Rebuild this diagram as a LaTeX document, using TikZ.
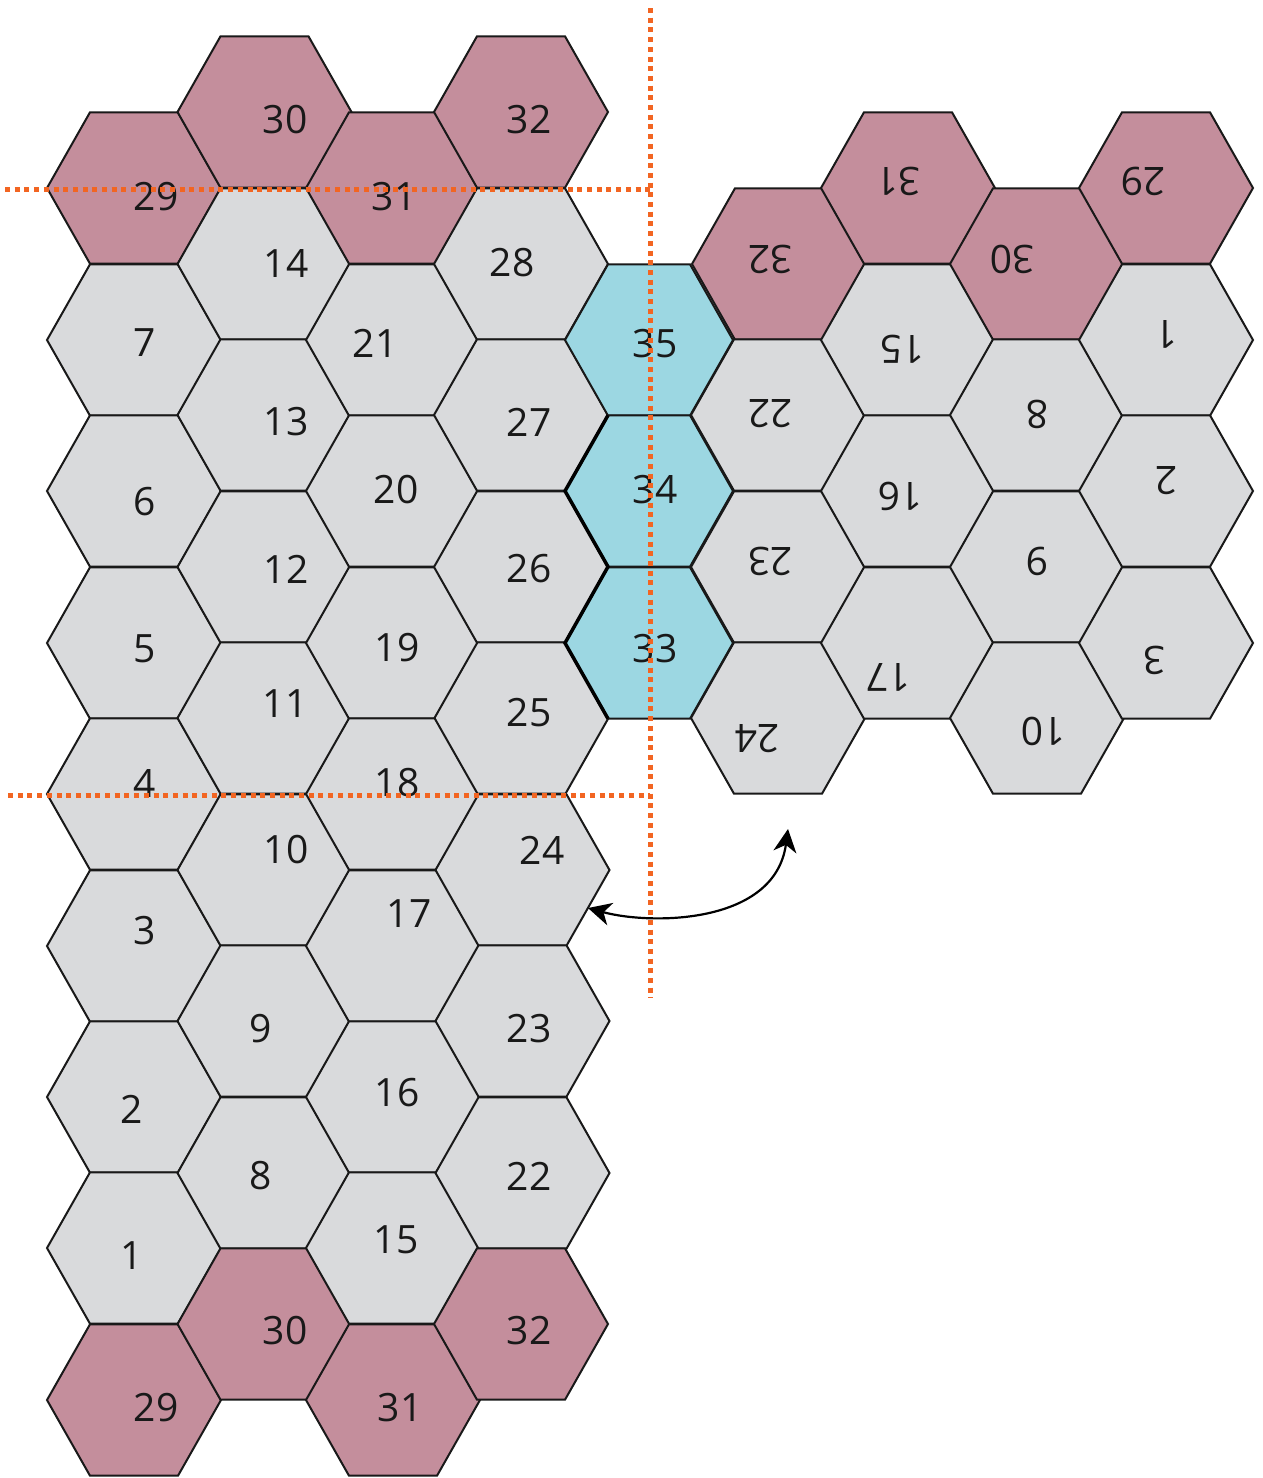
\documentclass[tikz,border=0pt]{standalone}
\usepackage{fontspec}
\setmainfont{Open Sans}
\usetikzlibrary{arrows.meta}
\definecolor{hexgrey}{HTML}{D9DADC}
\definecolor{hexpink}{HTML}{C48E9C}
\definecolor{hexblue}{HTML}{9CD7E2}
\definecolor{cutline}{HTML}{F26522}
\tikzset{
  hexedge/.style={draw=black!90,line width=2pt,line join=miter},
  numlabel/.style={inner sep=0pt,yshift=-1pt,font=\fontsize{39}{39}\selectfont,text=black!90},
  fliplabel/.style={numlabel,rotate=180},
  cutmark/.style={draw=cutline,line width=5pt,dash pattern=on 5pt off 4.7pt},
  swapline/.style={draw=black,line width=2.2pt,{Stealth[length=23pt,width=23pt,inset=7pt]}-{Stealth[length=23pt,width=23pt,inset=7pt]}}
}
% \hexcell{name}{cx}{cy}{half width}{fill}
\newcommand{\hexcell}[5]{%
  \coordinate (#1-w) at (#2-#4,#3);
  \coordinate (#1-nw) at (#2-#4+43,#3-75.7);
  \coordinate (#1-ne) at (#2+#4-43,#3-75.7);
  \coordinate (#1-e) at (#2+#4,#3);
  \coordinate (#1-se) at (#2+#4-43,#3+75.7);
  \coordinate (#1-sw) at (#2-#4+43,#3+75.7);
  \path[hexedge,fill=#5] (#1-w)--(#1-nw)--(#1-ne)--(#1-e)--(#1-se)--(#1-sw)--cycle;
}
\begin{document}
\begin{tikzpicture}[x=1pt,y=-1pt]
\useasboundingbox (0,0) rectangle (1262,1478);
% left sheet
\hexcell{a1}{134}{188}{87}{hexpink}
\hexcell{a2}{134}{340}{87}{hexgrey}
\hexcell{a3}{134}{491}{87}{hexgrey}
\hexcell{a4}{134}{643}{87}{hexgrey}
\hexcell{a5}{134}{794}{87}{hexgrey}
\hexcell{a6}{134}{946}{87}{hexgrey}
\hexcell{a7}{134}{1097}{87}{hexgrey}
\hexcell{a8}{134}{1248}{87}{hexgrey}
\hexcell{a9}{134}{1400}{87}{hexpink}
\hexcell{b1}{264.5}{112}{87}{hexpink}
\hexcell{b2}{264.5}{264}{87}{hexgrey}
\hexcell{b3}{264.5}{415}{87}{hexgrey}
\hexcell{b4}{264.5}{567}{87}{hexgrey}
\hexcell{b5}{264.5}{718}{87}{hexgrey}
\hexcell{b6}{264.5}{870}{87}{hexgrey}
\hexcell{b7}{264.5}{1021}{87}{hexgrey}
\hexcell{b8}{264.5}{1173}{87}{hexgrey}
\hexcell{b9}{264.5}{1324}{87}{hexpink}
\hexcell{c1}{393}{188}{87}{hexpink}
\hexcell{c2}{393}{340}{87}{hexgrey}
\hexcell{c3}{393}{491}{87}{hexgrey}
\hexcell{c4}{393}{643}{87}{hexgrey}
\hexcell{c5}{393}{794}{87}{hexgrey}
\hexcell{c6}{393}{946}{87}{hexgrey}
\hexcell{c7}{393}{1097}{87}{hexgrey}
\hexcell{c8}{393}{1248}{87}{hexgrey}
\hexcell{c9}{393}{1400}{87}{hexpink}
\hexcell{d1}{521}{112}{87}{hexpink}
\hexcell{d2}{521}{264}{87}{hexgrey}
\hexcell{d3}{521}{415}{87}{hexgrey}
\hexcell{d4}{521}{567}{87}{hexgrey}
\hexcell{d5}{521.5}{718}{87}{hexgrey}
\hexcell{d6}{522.5}{870}{87}{hexgrey}
\hexcell{d7}{522.5}{1021}{87}{hexgrey}
\hexcell{d8}{522.5}{1173}{87}{hexgrey}
\hexcell{d9}{521}{1324}{87}{hexpink}
% right sheet
\hexcell{f1}{779}{264}{87}{hexpink}
\hexcell{f2}{778}{415}{87}{hexgrey}
\hexcell{f3}{778}{567}{87}{hexgrey}
\hexcell{f4}{778}{718}{87}{hexgrey}
\hexcell{g1}{908}{188}{87}{hexpink}
\hexcell{g2}{908}{340}{87}{hexgrey}
\hexcell{g3}{908}{491}{87}{hexgrey}
\hexcell{g4}{908}{643}{87}{hexgrey}
\hexcell{h1}{1037}{264}{87}{hexpink}
\hexcell{h2}{1037}{415}{87}{hexgrey}
\hexcell{h3}{1037}{567}{87}{hexgrey}
\hexcell{h4}{1037}{718}{87}{hexgrey}
\hexcell{i1}{1166}{188}{87}{hexpink}
\hexcell{i2}{1166}{340}{87}{hexgrey}
\hexcell{i3}{1166}{491}{87}{hexgrey}
\hexcell{i4}{1166}{643}{87}{hexgrey}
% centre strip
\hexcell{e1}{649}{340}{84}{hexblue}
\hexcell{e2}{649}{491}{84}{hexblue}
\hexcell{e3}{649}{643}{84}{hexblue}
% heavier edges of the strip
\draw[black,line width=3.5pt,line join=miter] (e2-nw)--(e2-w)--(e2-sw)--(e3-w)--(e3-sw);
% labels, left sheet
\node[numlabel] (la1) at (156,196) {29};
\node[numlabel] (la2) at (145,342) {7};
\node[numlabel] (la3) at (145,501) {6};
\node[numlabel] (la4) at (145,648) {5};
\node[numlabel] (la5) at (145,782) {4};
\node[numlabel] (la6) at (145,930) {3};
\node[numlabel] (la7) at (132,1108) {2};
\node[numlabel] (la8) at (132,1255) {1};
\node[numlabel] (la9) at (156,1407) {29};
\node[numlabel] (lb1) at (285,119) {30};
\node[numlabel] (lb2) at (286,262) {14};
\node[numlabel] (lb3) at (286,421) {13};
\node[numlabel] (lb4) at (286,568) {12};
\node[numlabel] (lb5) at (285,703) {11};
\node[numlabel] (lb6) at (286,849) {10};
\node[numlabel] (lb7) at (261,1028) {9};
\node[numlabel] (lb8) at (261,1175) {8};
\node[numlabel] (lb9) at (285,1330) {30};
\node[numlabel] (lc1) at (394,196) {31};
\node[numlabel] (lc2) at (375,342) {21};
\node[numlabel] (lc3) at (396,489) {20};
\node[numlabel] (lc4) at (397,647) {19};
\node[numlabel] (lc5) at (397,782) {18};
\node[numlabel] (lc6) at (409,913) {17};
\node[numlabel] (lc7) at (397,1092) {16};
\node[numlabel] (lc8) at (396,1239) {15};
\node[numlabel] (lc9) at (400,1407) {31};
\node[numlabel] (ld1) at (529,119) {32};
\node[numlabel] (ld2) at (512,262) {28};
\node[numlabel] (ld3) at (529,421) {27};
\node[numlabel] (ld4) at (529,568) {26};
\node[numlabel] (ld5) at (529,712) {25};
\node[numlabel] (ld6) at (542,849) {24};
\node[numlabel] (ld7) at (529,1028) {23};
\node[numlabel] (ld8) at (529,1175) {22};
\node[numlabel] (ld9) at (529,1330) {32};
\node[numlabel] (le1) at (655,343) {35};
\node[numlabel] (le2) at (655,489) {34};
\node[numlabel] (le3) at (655,648) {33};
% labels, right sheet (upside down)
\node[fliplabel] (lf1) at (770,258) {32};
\node[fliplabel] (lf2) at (770,413) {22};
\node[fliplabel] (lf3) at (770,560) {23};
\node[fliplabel] (lf4) at (757,738) {24};
\node[fliplabel] (lg1) at (898,180) {31};
\node[fliplabel] (lg2) at (902,348) {15};
\node[fliplabel] (lg3) at (900,495) {16};
\node[fliplabel] (lg4) at (888,676) {17};
\node[fliplabel] (lh1) at (1012,258) {30};
\node[fliplabel] (lh2) at (1037,413) {8};
\node[fliplabel] (lh3) at (1037,560) {9};
\node[fliplabel] (lh4) at (1043,730) {10};
\node[fliplabel] (li1) at (1143,180) {29};
\node[fliplabel] (li2) at (1166,333) {1};
\node[fliplabel] (li3) at (1166,480) {2};
\node[fliplabel] (li4) at (1154,659) {3};
% cut lines
\coordinate (cutAl) at (5,189.5);
\coordinate (cutAr) at (650,189.5);
\coordinate (cutBl) at (8,795.5);
\coordinate (cutBr) at (650,795.5);
\coordinate (cutVt) at (650,8);
\coordinate (cutVb) at (650,998);
\draw[cutmark] (cutAl) -- (cutAr);
\draw[cutmark] (cutBl) -- (cutBr);
\draw[cutmark] (cutVt) -- (cutVb);
% swap arrow
\coordinate (swapA) at (588,908);
\coordinate (swapB) at (788,829);
\draw[swapline] (swapA) .. controls (650,925) and (775,925) .. (swapB);
\end{tikzpicture}
\end{document}
